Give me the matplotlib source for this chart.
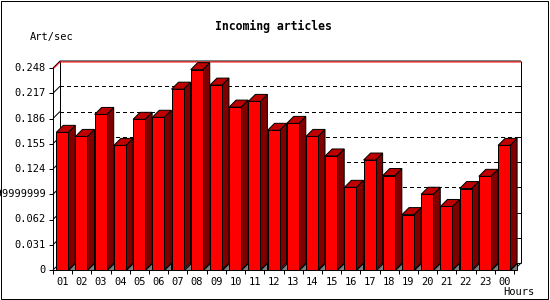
"""Incoming articles per hour, drawn as an old-style 3D bar chart."""
import matplotlib
matplotlib.use("Agg")
import matplotlib.pyplot as plt
from matplotlib.patches import Polygon, Rectangle

HOURS = ["01", "02", "03", "04", "05", "06", "07", "08", "09", "10", "11", "12",
         "13", "14", "15", "16", "17", "18", "19", "20", "21", "22", "23", "00"]
RATES = [0.169, 0.164, 0.191, 0.153, 0.185, 0.1875, 0.222, 0.246, 0.227, 0.200,
         0.207, 0.1715, 0.180, 0.164, 0.140, 0.1015, 0.135, 0.116, 0.068, 0.093,
         0.078, 0.100, 0.115, 0.153]
Y_TICKS = [0, 0.031, 0.062, 0.093, 0.124, 0.155, 0.186, 0.217, 0.248]
Y_LABELS = ["0", "0.031", "0.062", "0.09299999999999999", "0.124", "0.155",
            "0.186", "0.217", "0.248"]
Y_MAX = 0.248

FRONT = "#ff0000"
SIDE = "#800000"
TOP = "#c00000"
SHADOW = "#808080"
LW = 0.72  # one pixel at 100 dpi
MONO = "DejaVu Sans Mono"

FW, FH = 550, 300
L, B, W, H = 53, 30, 461, 202   # front plane, pixels
D = 7                           # depth, pixels

fig = plt.figure(figsize=(FW / 100, FH / 100), dpi=100)
ax = fig.add_axes([L / FW, B / FH, W / FW, H / FH])
n = len(HOURS)
ax.set_xlim(0, n)
ax.set_ylim(0, Y_MAX)
ax.axis("off")

px = n / W          # one pixel in x data units
py = Y_MAX / H      # one pixel in y data units
dx, dy = D * px, D * py


def line(xs, ys, color="black", z=1, aa=True, **kw):
    ax.plot(xs, ys, color=color, lw=LW, clip_on=False, zorder=z,
            solid_capstyle="butt", antialiased=aa, **kw)


# back wall
for v in Y_TICKS[1:-1]:
    line([dx, n + dx], [v + dy] * 2, ls=(0, (3, 3)), aa=False)
    line([n + dx - 3 * px, n + dx], [v + dy] * 2, aa=False)
for v in Y_TICKS[:-1]:
    line([0, dx], [v, v + dy])
line([dx, dx], [dy, Y_MAX + dy])
line([dx, n + dx], [dy, dy])
line([n + dx] * 2, [dy, Y_MAX + dy])
line([n, n + dx], [0, dy])
line([0, dx, n + dx], [Y_MAX, Y_MAX + dy, Y_MAX + dy])
line([0, dx, n + dx], [Y_MAX - py, Y_MAX + dy - py, Y_MAX + dy - py],
     color="red")

# bars
OFF, BW = 0.17, 0.626
for i, v in enumerate(RATES):
    x0 = i + OFF
    x1 = x0 + BW
    kw = dict(ec="black", lw=LW, clip_on=False, zorder=3, joinstyle="miter")
    ax.add_patch(Polygon([(x1, 0), (x1 + dx, 0), (x1 + dx, dy)],
                         closed=True, fc=SHADOW, **kw))
    ax.add_patch(Polygon([(x1, 0), (x1, v), (x1 + dx, v + dy), (x1 + dx, dy)],
                         closed=True, fc=SIDE, **kw))
    ax.add_patch(Polygon([(x0, v), (x1, v), (x1 + dx, v + dy), (x0 + dx, v + dy)],
                         closed=True, fc=TOP, **kw))
    ax.add_patch(Rectangle((x0, 0), BW, v, fc=FRONT, **kw))

# front axes
line([0, 0], [0, Y_MAX], z=4)
line([0, n], [0, 0], z=4)
for v, lab in zip(Y_TICKS, Y_LABELS):
    line([-4 * px, 0], [v, v], z=4)
    ax.text(-7 * px, v, lab, ha="right", va="center", fontsize=7.5,
            family=MONO, clip_on=False)
for k in range(n + 1):
    line([k, k], [0, -4 * py], z=4)
for i, lab in enumerate(HOURS):
    ax.text(i + 0.5, -12 * py, lab, ha="center", va="center", fontsize=7.5,
            family=MONO, clip_on=False)

fig.text(273 / FW, 1 - 26.5 / FH, "Incoming articles", ha="center",
         va="center", fontsize=8.3, fontweight="bold", family=MONO)
fig.text(30 / FW, 1 - 37 / FH, "Art/sec", ha="left", va="center",
         fontsize=7.5, family=MONO)
fig.text(503 / FW, 1 - 292 / FH, "Hours", ha="left", va="center",
         fontsize=7.5, family=MONO)

fig.patches.append(Rectangle((0.5 / FW, 1.5 / FH), 547 / FW, 298 / FH,
                             transform=fig.transFigure, fill=False,
                             ec="black", lw=LW))

fig.savefig("out.png", dpi=100)
